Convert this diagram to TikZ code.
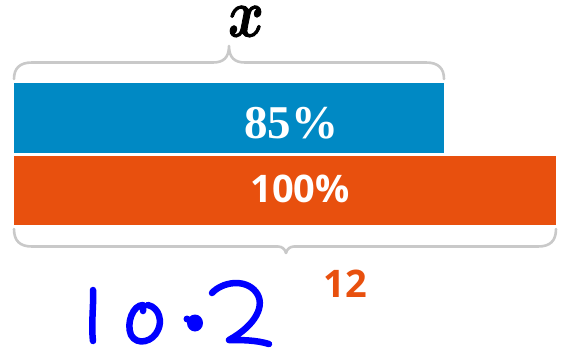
\documentclass[tikz,border=0pt]{standalone}
\usepackage{fontspec}
\setmainfont{Liberation Serif}
\newfontfamily\opensans{Open Sans}
\newfontfamily\xfont[FakeBold=1.6]{latinmodern-math.otf}
\definecolor{barblue}{HTML}{0089C4}
\definecolor{barorange}{HTML}{E8500E}
\definecolor{bracegray}{HTML}{C9C9C9}
\definecolor{inkblue}{HTML}{0000FF}
\tikzset{
  bar/.style={inner sep=0pt, outer sep=0pt, anchor=north west},
  bracestyle/.style={draw=bracegray, line width=2.6pt, line cap=round, line join=round},
  ink/.style={draw=inkblue, line width=6.5pt, line cap=round, line join=round},
  lbl/.style={inner sep=0pt, outer sep=0pt, anchor=center}
}
\begin{document}
\begin{tikzpicture}[x=1pt,y=-1pt]
\useasboundingbox (0,0) rectangle (566,354);
% bars
\node[bar, fill=barblue, minimum width=430pt, minimum height=70pt] (blue) at (14,83) {};
\node[bar, fill=barorange, minimum width=542pt, minimum height=69.5pt] (orange) at (14,155.5) {};
% bar labels
\node[lbl, text=white] (p85) at (291,123.5) {\fontsize{47}{50}\selectfont\bfseries 85\%};
\node[lbl, text=white] (p100) at (300,188.5) {\fontsize{38}{42}\selectfont\opensans\bfseries 100\%};
% top brace
\draw[bracestyle] (14,79) .. controls (14,68) and (20,62.5) .. (32,62.5) -- (213,62.5)
  .. controls (223,62.5) and (229,58) .. (229,46)
  .. controls (229,58) and (235,62.5) .. (245,62.5) -- (426,62.5)
  .. controls (438,62.5) and (444,68) .. (444,79);
\node[lbl, anchor=base] (xlabel) at (246,36.5) {\scalebox{0.8}[1]{\fontsize{68}{70}\selectfont\xfont 𝒙}};
% bottom brace
\draw[bracestyle] (14,229) .. controls (14,241) and (20,246.5) .. (32,246.5) -- (278,246.5)
  .. controls (282,246.5) and (285,249) .. (286,253)
  .. controls (287,249) and (290,246.5) .. (294,246.5) -- (538,246.5)
  .. controls (550,246.5) and (556,241) .. (556,229);
\node[lbl, text=barorange] (twelve) at (345.5,283.5) {\fontsize{38}{40}\selectfont\opensans\bfseries 12};
% handwriting 10.2
\draw[ink] (93,290) .. controls (94,300) and (91,325) .. (93,341);
\draw[ink] (148,305) .. controls (160,308) and (162,322) .. (158,330)
  .. controls (153,342) and (137,346) .. (131,335)
  .. controls (126,323) and (133,305) .. (143,305) -- (143,311);
\fill[inkblue] (195,323) ellipse (8 and 8.5);
\fill[inkblue] (187,319) circle (3.5);
\draw[ink] (212,293) .. controls (222,282) and (245,278) .. (256,292)
  .. controls (266,305) and (256,325) .. (229,340)
  .. controls (242,340) and (256,340) .. (269,344);
\end{tikzpicture}
\end{document}
